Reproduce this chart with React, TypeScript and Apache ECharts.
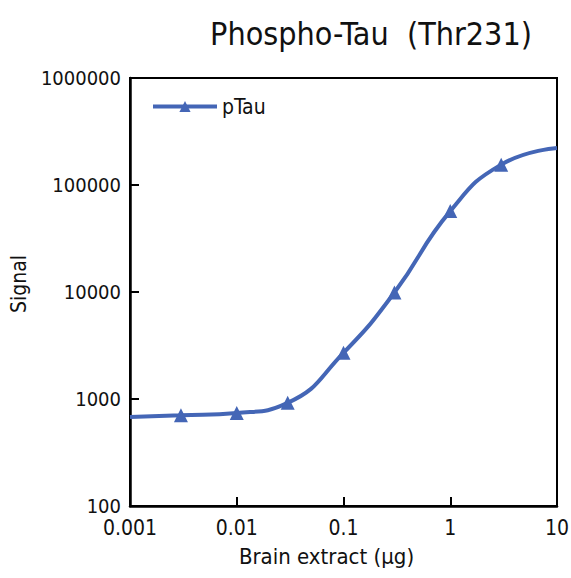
import React, { useEffect, useRef } from "react";
import * as echarts from "echarts";

const titleText = "Phospho-Tau  (Thr231)";
const seriesName = "pTau";
const xAxisName = "Brain extract (\u03bcg)";
const yAxisName = "Signal";
const xValues = [0.001, 0.003, 0.01, 0.03, 0.1, 0.3, 1, 3, 10];
const yValues = [680, 705, 740, 920, 2700, 9900, 57000, 155000, 222000];
const markerShown = [false, true, true, true, true, true, true, true, false];

const FONT = "'DejaVu Sans Condensed', sans-serif";
const BLUE = "#4466b6";

const fmt = (v: number) => String(Number(Number(v).toPrecision(6)));

export default function App() {
  const ref = useRef<HTMLDivElement>(null);
  useEffect(() => {
    if (!ref.current) return;
    const chart = echarts.init(ref.current, undefined, { renderer: "svg" });
    const data = xValues.map((x, i) => ({
      value: [x, yValues[i]],
      symbol: markerShown[i] ? "triangle" : "none",
    }));
    chart.setOption({
      animation: false,
      backgroundColor: "#fff",
      title: {
        text: titleText,
        left: 366,
        top: 13,
        textAlign: "center",
        textStyle: { fontFamily: FONT, fontSize: 32, fontWeight: "normal", color: "#111" },
      },
      legend: {
        left: 146,
        top: 91,
        itemWidth: 64,
        itemHeight: 14,
        itemGap: 2,
        lineStyle: { width: 4, color: BLUE },
        textStyle: { fontFamily: FONT, fontSize: 21, color: "#111" },
        data: [seriesName],
      },
      grid: {
        left: 130,
        right: 14,
        top: 78,
        bottom: 72,
        outerBoundsMode: "none",
        containLabel: false,
        show: true,
        borderColor: "#000",
        borderWidth: 2,
        backgroundColor: "transparent",
      },
      xAxis: {
        type: "log",
        logBase: 10,
        min: 0.001,
        max: 10,
        name: xAxisName,
        nameLocation: "middle",
        nameGap: 39,
        nameTextStyle: { fontFamily: FONT, fontSize: 22, color: "#111", padding: [0, 34, 0, 0] },
        axisLine: { lineStyle: { color: "#000", width: 2.5 } },
        axisTick: { inside: true, length: 9, lineStyle: { color: "#000", width: 2 } },
        minorTick: { show: false },
        splitLine: { show: false },
        axisLabel: {
          formatter: fmt,
          fontFamily: FONT,
          fontSize: 21,
          color: "#111",
          margin: 11,
          hideOverlap: false,
        },
      },
      yAxis: {
        type: "log",
        logBase: 10,
        min: 100,
        max: 1000000,
        name: yAxisName,
        nameLocation: "middle",
        nameGap: 84,
        nameTextStyle: { fontFamily: FONT, fontSize: 21, color: "#111", padding: [0, 0, 0, 16] },
        axisLine: { lineStyle: { color: "#000", width: 2.5 } },
        axisTick: { inside: true, length: 9, lineStyle: { color: "#000", width: 2 } },
        splitLine: { show: false },
        axisLabel: {
          formatter: fmt,
          fontFamily: FONT,
          fontSize: 20,
          color: "#111",
          margin: 9,
        },
      },
      series: [
        {
          name: seriesName,
          type: "line",
          data,
          smooth: 0.5,
          symbol: "triangle",
          symbolSize: 14,
          showAllSymbol: true,
          lineStyle: { color: BLUE, width: 4 },
          itemStyle: { color: BLUE },
        },
      ],
    });
    return () => chart.dispose();
  }, []);
  return <div ref={ref} style={{ width: 571, height: 578, position: "absolute", left: 0, top: 0 }} />;
}
